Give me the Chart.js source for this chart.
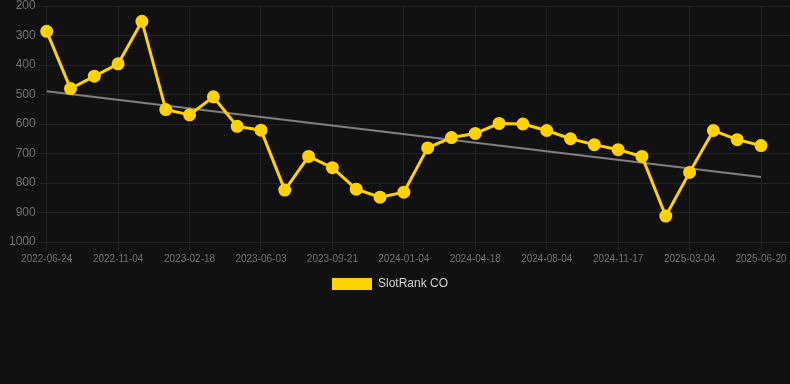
<!DOCTYPE html>
<html>
<head>
<meta charset="utf-8">
<script src="https://cdn.jsdelivr.net/npm/chart.js@4"></script>
<style>
  html, body { margin: 0; padding: 0; background: #111111; }
  #wrap { width: 790px; height: 300px; position: relative; }
</style>
</head>
<body>
<div id="wrap"><canvas id="c"></canvas></div>
<script>
const dateLabels = [
  "2022-06-24","2022-08-08","2022-09-21","2022-11-04","2022-12-09","2023-01-13",
  "2023-02-18","2023-03-25","2023-04-29","2023-06-03","2023-07-10","2023-08-15",
  "2023-09-21","2023-10-26","2023-11-30","2024-01-04","2024-02-08","2024-03-14",
  "2024-04-18","2024-05-24","2024-06-29","2024-08-04","2024-09-08","2024-10-13",
  "2024-11-17","2024-12-23","2025-01-27","2025-03-04","2025-04-08","2025-05-14",
  "2025-06-20"
];
const rankValues = [
  286, 480, 438, 396, 252, 551, 569, 508, 608, 621,
  824, 710, 748, 821, 848, 831, 681, 646, 632, 598,
  600, 622, 650, 670, 687, 710, 912, 764, 622, 653,
  673
];
const trendEnds = [489, 780];
const yTicks = [200, 300, 400, 500, 600, 700, 800, 900, 1000];

const trendData = dateLabels.map((_, i) =>
  i === 0 ? trendEnds[0] : (i === dateLabels.length - 1 ? trendEnds[1] : null));

const gridColor = '#222222';

const legendShift = {
  id: 'legendShift',
  afterLayout(chart) {
    if (chart.legend) { chart.legend.left -= 8; chart.legend.right -= 8; }
  }
};

new Chart(document.getElementById('c'), {
  type: 'line',
  data: {
    labels: dateLabels,
    datasets: [
      {
        label: 'SlotRank CO',
        data: rankValues,
        borderColor: '#FFD200',
        backgroundColor: '#FFD200',
        borderWidth: 3,
        pointRadius: 5,
        pointBackgroundColor: '#FFD200',
        pointBorderColor: '#FFD200',
        tension: 0,
        yAxisID: 'y'
      },
      {
        label: 'trend',
        data: trendData,
        spanGaps: true,
        borderColor: '#808080',
        backgroundColor: '#808080',
        borderWidth: 2,
        pointRadius: 0,
        tension: 0,
        yAxisID: 'y'
      }
    ]
  },
  plugins: [legendShift],
  options: {
    responsive: true,
    maintainAspectRatio: false,
    animation: false,
    layout: { autoPadding: false, padding: { left: 6 } },
    plugins: {
      legend: {
        position: 'bottom',
        labels: {
          color: '#d0d0d0',
          font: { size: 12 },
          boxWidth: 40,
          boxHeight: 12,
          filter: (item) => item.text !== 'trend',
          generateLabels: (chart) => {
            const items = Chart.defaults.plugins.legend.labels.generateLabels(chart);
            items.forEach(it => { it.lineWidth = 0; });
            return items;
          }
        }
      },
      tooltip: { enabled: false }
    },
    scales: {
      x: {
        grid: { color: gridColor, tickLength: 8 },
        border: { display: false },
        ticks: {
          color: '#707070',
          font: { size: 10 },
          maxRotation: 0,
          autoSkip: false,
          callback: function(v, i) { return i % 3 === 0 ? dateLabels[i] : null; }
        }
      },
      y: {
        reverse: true,
        min: yTicks[0],
        max: yTicks[yTicks.length - 1],
        grid: { color: gridColor, tickLength: 8 },
        border: { display: false },
        ticks: {
          stepSize: 100,
          color: '#707070',
          font: { size: 12, lineHeight: 0.5 },
          callback: (v) => String(v)
        },
        afterBuildTicks: (axis) => { axis.ticks = yTicks.map(v => ({ value: v })); }
      },
      yr: {
        position: 'right',
        reverse: true,
        min: yTicks[0],
        max: yTicks[yTicks.length - 1],
        grid: { color: gridColor, drawOnChartArea: false, drawTicks: true, tickLength: 29 },
        border: { display: false },
        ticks: { display: false, stepSize: 100 },
        afterBuildTicks: (axis) => { axis.ticks = yTicks.map(v => ({ value: v })); }
      }
    }
  }
});
</script>
</body>
</html>
